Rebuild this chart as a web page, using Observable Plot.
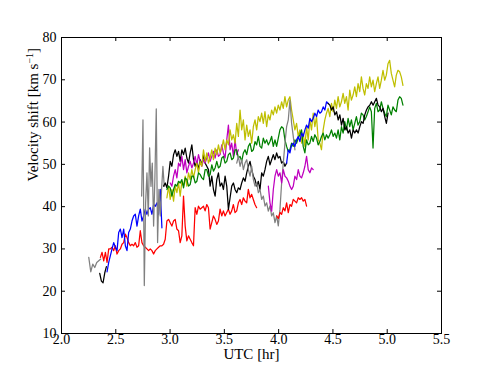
<!DOCTYPE html>
<html><head><meta charset="utf-8">
<script src="https://cdn.jsdelivr.net/npm/d3@7"></script>
<script src="https://cdn.jsdelivr.net/npm/@observablehq/plot@0.6"></script>
<style>body{margin:0;background:#fff} #chart svg{display:block}</style>
</head><body><div id="chart"></div>
<script>
// Tick labels
const xTicks = [2.0, 2.5, 3.0, 3.5, 4.0, 4.5, 5.0, 5.5];
const yTicks = [10, 20, 30, 40, 50, 60, 70, 80];

// Series values (km/s), sampled at regular UTC steps
const grayA = [28.0, 24.6, 26.4, 25.6, 26.8, 27.2, 27.6];
const blackA = [24.2, 22.4, 22.0, 24.3, 25.8];
const redA = [28.0, 29.2, 27.2, 29.2, 26.8, 30.0, 30.0, 30.4, 29.6, 30.75,
  28.8, 29.6, 30.0, 31.1, 31.5, 33.5, 32.7, 31.5, 30.75, 31.1,
  30.75, 31.5, 30.4, 30.75, 34.3, 31.5, 30.75, 30.4, 30.0, 29.6,
  30.0, 29.6, 28.8, 29.6, 30.0, 30.4, 30.75, 30.75, 31.1, 32.3,
  36.6, 37.0, 36.2, 35.4, 36.6, 37.0, 34.7, 34.3, 31.5, 33.1,
  42.5, 35.4, 31.9, 33.1, 32.3, 31.5, 30.75, 39.75, 38.2, 40.1,
  39.4, 39.75, 40.1, 39.0, 40.5, 39.75, 34.7, 36.2, 37.8, 37.0,
  35.8, 36.6, 39.4, 37.8, 39.0, 37.8, 38.6, 39.4, 38.2, 39.0,
  40.5, 38.6, 39.0, 40.9, 41.7, 40.5, 42.1, 41.3, 40.9, 44.1,
  42.1, 42.9, 41.7, 40.5, 39.75];
const blueA = [24.6, 26.8, 28.4, 30.0, 31.5, 30.4, 29.6, 33.9, 34.7, 32.7,
  34.7, 30.75, 29.6, 33.9, 34.7, 36.6, 37.8, 38.2, 35.4, 37.8,
  39.4, 36.6, 37.8, 39.4, 38.2, 39.4, 39.75, 38.2, 40.5, 40.1,
  40.9, 38.2, 44.1, 35.0];
const grayB = [42.5, 60.5, 21.35, 40.9, 48.0, 37.8, 53.9, 44.8, 50.3, 35.4,
  47.2, 63.1, 31.5, 44.1, 37.8, 44.1, 49.5, 44.8];
const blackB = [44.85, 45.6, 44.45, 47.2, 50.7, 49.55, 52.3, 53.45, 51.9, 53.05,
  50.7, 53.45, 52.3, 53.85, 51.5, 50.3, 52.7, 54.6, 51.1, 49.55,
  50.7, 48.75, 51.1, 49.9, 52.3, 50.3, 49.55, 48.75, 44.85, 47.2,
  44.05, 42.5, 46.4, 48.0, 44.85, 45.6, 44.05, 47.2, 44.85, 39.35,
  42.1, 44.85, 45.6, 44.05, 43.3, 44.45, 44.05, 45.6, 46.8, 46.0,
  48.0, 49.55, 50.7, 48.75, 47.2, 46.4, 44.85, 46.0, 44.05, 48.0,
  47.2, 48.75, 50.7, 51.9, 49.9, 51.1, 52.3, 51.1, 52.7, 51.5,
  51.9, 50.3, 50.7, 49.55, 50.3];
const magentaA = [45.6, 44.85, 47.2, 48.75, 46.8, 50.3, 49.55, 51.9, 48.75, 51.1,
  48.0, 49.55, 50.7, 49.15, 50.3, 51.9, 49.9, 52.3, 50.7, 49.55,
  51.1, 50.3, 51.5, 52.7, 50.7, 51.9, 53.05, 51.5, 53.45, 51.9,
  52.3, 54.6, 52.7, 51.5, 55.8, 59.3, 53.45, 55.0, 51.9, 55.8,
  52.3, 53.45];
const olive = [42.1, 44.85, 41.7, 44.05, 41.3, 44.85, 43.3, 45.6, 42.5, 46.0,
  44.85, 47.2, 44.85, 48.0, 46.4, 48.75, 46.8, 48.75, 50.3, 48.0,
  50.7, 49.55, 53.45, 50.7, 52.7, 50.3, 51.5, 53.45, 51.1, 53.85,
  52.3, 54.6, 52.7, 53.85, 55.8, 53.45, 55.8, 54.6, 58.15, 55.8,
  57.0, 55.0, 59.7, 56.6, 62.85, 58.15, 60.5, 55.8, 59.3, 56.6,
  58.15, 55.0, 58.9, 60.5, 58.15, 61.3, 60.1, 62.1, 59.7, 62.45,
  58.9, 61.7, 60.5, 62.85, 61.7, 63.6, 62.1, 64.0, 62.85, 64.8,
  63.25, 66.0, 63.6, 65.2, 66.0, 62.85, 60.5, 58.15, 59.7, 56.6,
  58.15, 55.0, 57.4, 54.25, 58.9, 55.8, 60.5, 58.15, 62.1, 58.9,
  61.3, 55.8, 55.0, 53.45, 58.15, 60.5, 62.1, 63.25, 61.3, 64.4,
  62.45, 65.2, 63.25, 66.0, 63.6, 64.8, 66.8, 64.4, 66.0, 62.85,
  67.55, 65.2, 66.4, 68.3, 66.0, 69.1, 67.2, 70.7, 67.95, 66.4,
  69.1, 67.95, 70.7, 68.3, 69.9, 67.2, 69.1, 70.7, 67.95, 69.9,
  72.25, 69.9, 71.1, 73.8, 74.6, 71.5, 69.9, 68.3, 71.1, 72.25,
  71.9, 70.7, 68.7];
const green = [44.05, 44.85, 44.45, 42.5, 44.05, 45.25, 44.85, 46.0, 45.6, 46.4,
  44.45, 46.8, 46.4, 44.85, 45.25, 47.2, 47.2, 45.6, 46.0, 48.0,
  47.6, 46.8, 46.4, 48.75, 48.75, 47.2, 47.6, 49.9, 48.4, 49.15,
  50.7, 49.15, 49.55, 51.5, 51.9, 50.3, 50.7, 52.3, 52.7, 51.1,
  51.5, 53.45, 53.45, 51.5, 51.9, 50.7, 52.7, 53.45, 52.3, 54.25,
  55.0, 53.05, 53.45, 55.4, 54.6, 56.6, 54.25, 53.85, 56.2, 55.0,
  55.8, 54.6, 55.4, 56.6, 54.25, 55.8, 54.25, 56.2, 58.15, 58.9,
  58.55, 55.8, 54.25, 53.05, 53.45, 55.0, 54.25, 55.8, 55.0, 56.2,
  57.0, 58.15, 54.25, 52.7, 55.8, 54.6, 55.0, 56.6, 55.4, 57.0,
  56.2, 54.6, 55.4, 56.6, 57.4, 55.8, 57.0, 56.2, 57.0, 58.15,
  56.6, 57.4, 56.2, 58.15, 55.8, 58.9, 57.4, 60.1, 58.15, 60.9,
  58.9, 60.5, 58.15, 59.7, 61.3, 59.3, 60.1, 62.1, 61.7, 60.5,
  61.3, 62.45, 63.6, 62.45, 53.85, 63.25, 64.4, 62.45, 62.85, 64.8,
  63.25, 62.1, 61.3, 64.0, 62.85, 61.7, 63.6, 62.85, 62.45, 65.2,
  66.0, 65.6, 64.0];
const grayC = [50.3, 51.9, 49.55, 51.1, 48.75, 50.3, 51.1, 48.75, 47.2, 49.55,
  46.4, 44.85, 45.6, 43.3, 44.05, 41.7, 42.5, 40.15, 40.9, 38.95,
  40.15, 37.8, 38.55, 36.2, 37.8, 35.45, 39.35, 45.6, 50.3, 55.0,
  58.9, 60.5, 65.2, 59.7, 56.6, 53.45];
const magentaB = [44.85, 40.9, 38.95, 44.05, 47.2, 48.75, 47.2, 48.0, 45.6, 48.75,
  47.2, 46.8, 46.0, 44.85, 44.05, 44.85, 47.2, 46.4, 48.75, 47.2,
  46.8, 48.0, 49.55, 51.9, 48.75, 48.0, 49.15, 48.75];
const redB = [37.8, 37.2, 38.6, 38.2, 39.75, 39.0, 40.9, 38.6, 40.5, 40.1,
  41.7, 41.3, 40.9, 42.1, 41.7, 42.1, 41.3, 41.7, 40.1];
const blueB = [50.3, 53.45, 52.7, 54.6, 55.0, 54.25, 55.8, 56.6, 55.4, 57.4,
  56.6, 58.15, 59.3, 58.55, 60.9, 60.1, 60.9, 62.1, 61.3, 62.85,
  62.1, 62.45, 63.6, 62.85, 64.8, 64.4];
const blackC = [64.4, 64.0, 62.85, 63.6, 61.7, 62.45, 60.5, 61.7, 59.3, 60.9,
  58.15, 58.9, 57.4, 58.15, 56.2, 58.15, 57.4, 58.15, 57.4, 58.9,
  60.1, 59.7, 61.7, 62.85, 63.6, 64.0, 64.8, 64.0, 64.8, 65.6,
  64.0, 63.6, 62.45, 63.25, 61.3, 59.7, 62.1];

// Sampling: first UTC time (hr) and step (hr) of each series, in drawing order
const seriesNames = ["grayA","blackA","redA","blueA","grayB","blackB","magentaA","olive","green","grayC","magentaB","redB","blueB","blackC"];
const seriesValues = [grayA, blackA, redA, blueA, grayB, blackB, magentaA, olive, green, grayC, magentaB, redB, blueB, blackC];
const seriesStart = [2.2511, 2.3522, 2.3583, 2.4196, 2.7381, 2.9403, 3.0015, 2.9709, 2.9709, 3.6141, 3.9051, 3.9816, 4.0735, 4.4564];
const seriesStep = [0.01838, 0.01531, 0.01531, 0.01531, 0.01225, 0.01531, 0.01531, 0.01531, 0.01531, 0.01531, 0.01531, 0.01531, 0.01531, 0.01531];

// Styles
const seriesColor = {grayA:"#808080", blackA:"#000000", redA:"#ff0000", blueA:"#0000ff", grayB:"#808080",
  blackB:"#000000", magentaA:"#bf00bf", olive:"#bfbf00", green:"#008000", grayC:"#808080",
  magentaB:"#bf00bf", redB:"#ff0000", blueB:"#0000ff", blackC:"#000000"};

const rows = seriesNames.map((n, k) => seriesValues[k].map((v, i) => ({s: n, t: seriesStart[k] + i * seriesStep[k], v})));

const W = 491, H = 370, mL = 61, mR = 50, mT = 37, mB = 37;
const iw = W - mL - mR, ih = H - mT - mB;
const font = "'Liberation Serif', 'DejaVu Serif', serif";

const plot = Plot.plot({
  width: W, height: H,
  marginLeft: mL, marginRight: mR, marginTop: mT, marginBottom: mB,
  style: {fontFamily: font, fontSize: "14px", background: "#fff", color: "#000", overflow: "visible"},
  x: {domain: [2, 5.5]},
  y: {domain: [10, 80]},
  marks: [
    ...rows.map((r, k) => Plot.line(r, {x: "t", y: "v", stroke: seriesColor[seriesNames[k]], strokeWidth: 1.25})),
    Plot.frame({stroke: "#000", strokeWidth: 1}),
    Plot.tickX(xTicks, {x: d => d, insetTop: ih - 4, stroke: "#000"}),
    Plot.tickX(xTicks, {x: d => d, insetBottom: ih - 4, stroke: "#000"}),
    Plot.tickY(yTicks, {y: d => d, insetRight: iw - 4, stroke: "#000"}),
    Plot.tickY(yTicks, {y: d => d, insetLeft: iw - 4, stroke: "#000"}),
    Plot.axisX({ticks: xTicks, tickSize: 0, tickPadding: 1, tickFormat: d3.format(".1f"), label: null, fontSize: 14}),
    Plot.axisY({ticks: yTicks, tickSize: 0, tickPadding: 5, label: null, fontSize: 14}),
    Plot.text(["UTC [hr]"], {frameAnchor: "bottom", dy: 25, text: d => d, fontSize: 15}),
    Plot.text(["Velocity shift [km s"], {frameAnchor: "left", dx: -28, dy: -4, rotate: -90, text: d => d, fontSize: 15, className: "ylab"})
  ]
});
document.getElementById("chart").appendChild(plot);

// add superscript to y label
const yl = plot.querySelector(".ylab text");
if (yl) {
  const ns = "http://www.w3.org/2000/svg";
  const sup = document.createElementNS(ns, "tspan");
  sup.setAttribute("dy", "-5"); sup.setAttribute("font-size", "10"); sup.textContent = "\u22121";
  const close = document.createElementNS(ns, "tspan");
  close.setAttribute("dy", "5"); close.textContent = "]";
  yl.appendChild(sup); yl.appendChild(close);
}
</script>
</body></html>
